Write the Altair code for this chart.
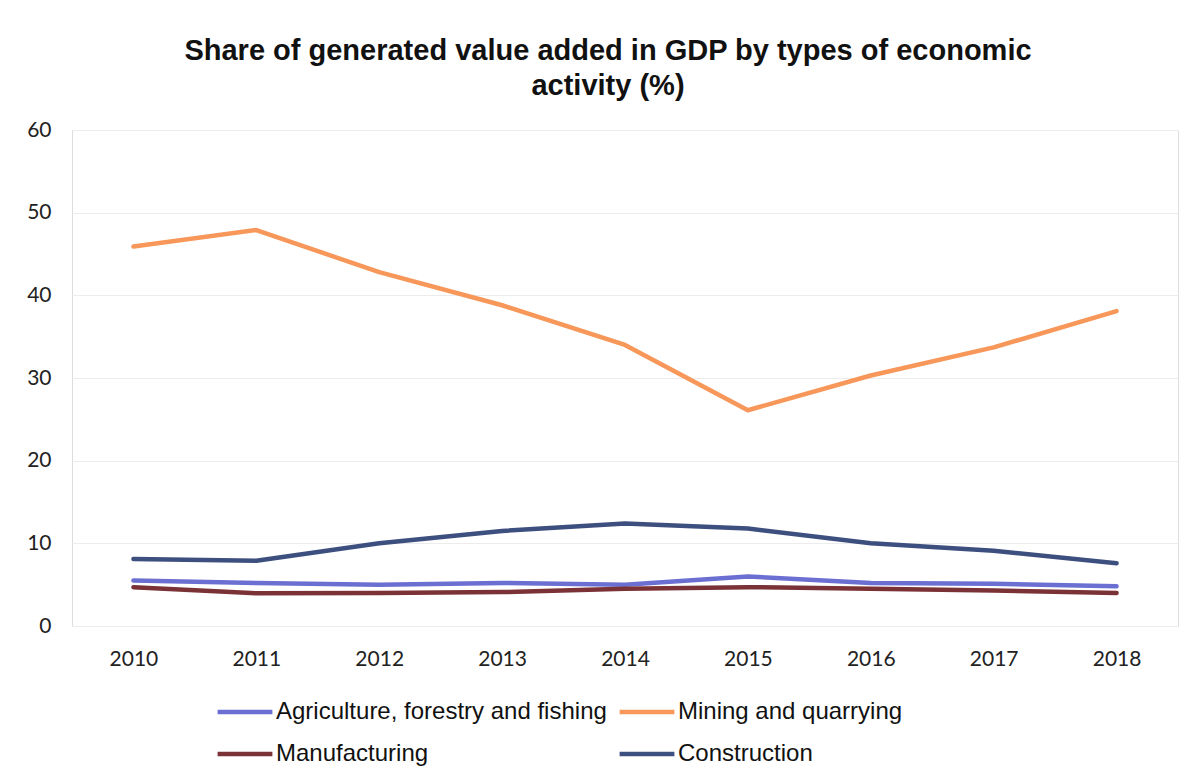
import altair as alt
import pandas as pd

years = ["2010", "2011", "2012", "2013", "2014", "2015", "2016", "2017", "2018"]
agriculture = [5.5, 5.2, 5.0, 5.2, 5.0, 6.0, 5.2, 5.1, 4.8]
mining = [45.9, 47.9, 42.8, 38.8, 34.0, 26.1, 30.3, 33.7, 38.1]
manufacturing = [4.7, 3.95, 4.0, 4.1, 4.5, 4.7, 4.5, 4.3, 4.0]
construction = [8.1, 7.9, 10.0, 11.5, 12.4, 11.8, 10.0, 9.1, 7.6]

series_names = ["Agriculture, forestry and fishing", "Mining and quarrying",
                "Manufacturing", "Construction"]
series_values = [agriculture, mining, manufacturing, construction]
series_colors = ["#6b6fd1", "#f7975a", "#7b3236", "#3c4f7f"]

# legend is filled column by column, so order the domain accordingly
legend_order = [0, 2, 1, 3]
domain = [series_names[i] for i in legend_order]
colors = [series_colors[i] for i in legend_order]

rows = []
for name, vals in zip(series_names, series_values):
    for y, v in zip(years, vals):
        rows.append({"year": y, "series": name, "value": v})
df = pd.DataFrame(rows)

chart = alt.Chart(df).mark_line(strokeWidth=4.5, strokeJoin="round", strokeCap="round").encode(
    x=alt.X("year:O", title=None, sort=years,
            scale=alt.Scale(paddingOuter=0.5),
            axis=alt.Axis(labelAngle=0, domain=False, ticks=False, grid=False,
                          labelFont="Lato", labelFontSize=21, labelColor="#222222",
                          labelPadding=22)),
    y=alt.Y("value:Q", title=None,
            scale=alt.Scale(domain=[0, 60]),
            axis=alt.Axis(values=[0, 10, 20, 30, 40, 50, 60], domain=False, ticks=False,
                          gridColor="#ececec", gridWidth=1,
                          labelFont="Lato", labelFontSize=21, labelColor="#222222",
                          labelPadding=21, minExtent=64, maxExtent=64)),
    color=alt.Color("series:N", sort=domain,
                    scale=alt.Scale(domain=domain, range=colors),
                    legend=alt.Legend(title=None, orient="none", legendX=143, legendY=552,
                                      columns=2, symbolType="stroke", symbolSize=3000,
                                      symbolStrokeWidth=4.5, labelFont="Liberation Sans",
                                      labelFontSize=24, labelColor="#111111",
                                      labelOffset=1, columnPadding=3, rowPadding=0,
                                      labelLimit=500)),
).properties(
    width=1106,
    height=496,
    padding={"top": 29, "left": 0, "right": 10, "bottom": 10},
    title=alt.TitleParams(
        text=["Share of generated value added in GDP by types of economic", "activity (%)"],
        font="Liberation Sans", fontSize=29, fontWeight="bold", color="#111111",
        anchor="middle", frame="group", dx=-17, offset=18, lineHeight=35,
    ),
).configure_view(stroke=None).configure(background="white")

chart.save("out.html", embed_options={"renderer": "svg", "actions": False})
